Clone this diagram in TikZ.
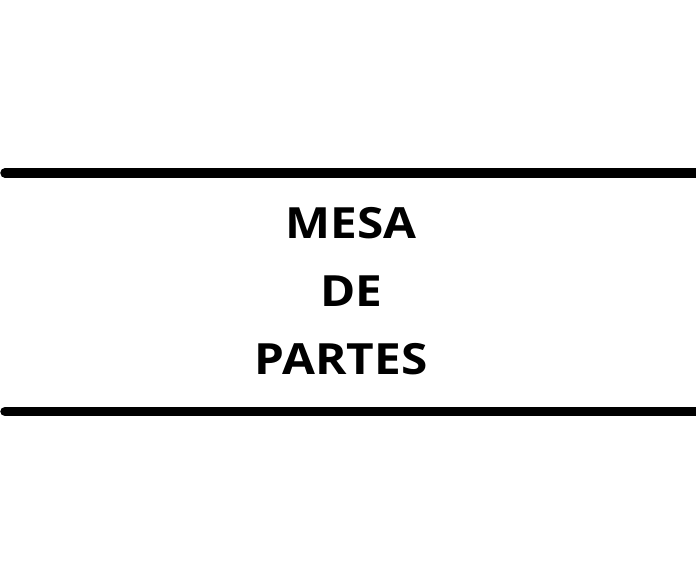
\documentclass[tikz,border=0pt]{standalone}
\usepackage{fontspec}
\setmainfont{Open Sans}
\usepackage{tikz}

\begin{document}
\begin{tikzpicture}[x=1pt, y=-1pt, line width=9.5pt, line cap=round]
        \useasboundingbox (0,0) rectangle (696,564);
        \draw (5,173) -- (705,173);
        \draw (5,411.5) -- (705,411.5);

        \begin{scope}[every node/.style={inner sep=0pt, anchor=base, xscale=1.11, font=\fontsize{43}{52}\selectfont\bfseries}]
            \node (mesa) at (351,238) {MESA};
            \node (de) at (351.5,306) {DE};
            \node (partes) at (341,374) {PARTES};
        \end{scope}
    \end{tikzpicture}
\end{document}
